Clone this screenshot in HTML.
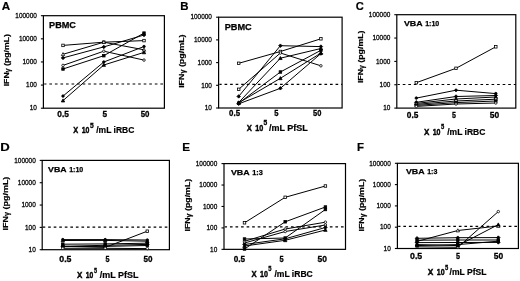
<!DOCTYPE html>
<html><head><meta charset="utf-8"><style>
html,body{margin:0;padding:0;background:#fff;}
body{width:520px;height:281px;overflow:hidden;}
svg{display:block;font-family:"Liberation Sans", sans-serif;filter:grayscale(1) blur(0.3px);}
</style></head><body>
<svg width="520" height="281" viewBox="0 0 520 281" font-family='"Liberation Sans", sans-serif' fill="#000">
<rect width="520" height="281" fill="#fff"/>
<rect x="43.40" y="15.70" width="121.00" height="92.50" fill="none" stroke="#000" stroke-width="1.2"/>
<line x1="40.90" y1="15.70" x2="43.40" y2="15.70" stroke="#000" stroke-width="1.1"/>
<text x="15.33" y="18.00" font-size="7.9" stroke="#000" stroke-width="0.3" textLength="21.52" lengthAdjust="spacingAndGlyphs">100000</text>
<line x1="40.90" y1="38.83" x2="43.40" y2="38.83" stroke="#000" stroke-width="1.1"/>
<text x="18.92" y="41.00" font-size="7.9" stroke="#000" stroke-width="0.3" textLength="17.94" lengthAdjust="spacingAndGlyphs">10000</text>
<line x1="40.90" y1="61.95" x2="43.40" y2="61.95" stroke="#000" stroke-width="1.1"/>
<text x="22.50" y="64.00" font-size="7.9" stroke="#000" stroke-width="0.3" textLength="14.35" lengthAdjust="spacingAndGlyphs">1000</text>
<line x1="40.90" y1="85.08" x2="43.40" y2="85.08" stroke="#000" stroke-width="1.1"/>
<text x="26.09" y="87.00" font-size="7.9" stroke="#000" stroke-width="0.3" textLength="10.76" lengthAdjust="spacingAndGlyphs">100</text>
<line x1="40.90" y1="108.20" x2="43.40" y2="108.20" stroke="#000" stroke-width="1.1"/>
<text x="29.68" y="110.00" font-size="7.9" stroke="#000" stroke-width="0.3" textLength="7.17" lengthAdjust="spacingAndGlyphs">10</text>
<line x1="44.20" y1="84.00" x2="164.40" y2="84.00" stroke="#000" stroke-width="1.2" stroke-dasharray="2.65 2.9" stroke-dashoffset="0.4"/>
<polyline points="63.00,45.40 103.80,42.20 144.00,40.60" fill="none" stroke="#000" stroke-width="1.0"/>
<polyline points="63.00,54.30 103.80,42.20 144.00,49.80" fill="none" stroke="#000" stroke-width="1.0"/>
<polyline points="63.00,57.90 103.80,46.90 144.00,35.00" fill="none" stroke="#000" stroke-width="1.0"/>
<polyline points="63.00,65.40 103.80,51.20 144.00,60.10" fill="none" stroke="#000" stroke-width="1.0"/>
<polyline points="63.00,69.00 103.80,55.70 144.00,33.10" fill="none" stroke="#000" stroke-width="1.0"/>
<polyline points="63.00,96.10 103.80,62.00 144.00,46.50" fill="none" stroke="#000" stroke-width="1.0"/>
<polyline points="63.00,100.60 103.80,65.00 144.00,52.40" fill="none" stroke="#000" stroke-width="1.0"/>
<rect x="61.75" y="44.15" width="2.50" height="2.50" fill="#fff" stroke="#000" stroke-width="0.8"/>
<rect x="102.55" y="40.95" width="2.50" height="2.50" fill="#fff" stroke="#000" stroke-width="0.8"/>
<rect x="142.75" y="39.35" width="2.50" height="2.50" fill="#fff" stroke="#000" stroke-width="0.8"/>
<polygon points="63.00,52.60 64.70,55.66 61.30,55.66" fill="#fff" stroke="#000" stroke-width="0.8"/>
<polygon points="103.80,40.50 105.50,43.56 102.10,43.56" fill="#fff" stroke="#000" stroke-width="0.8"/>
<polygon points="144.00,48.10 145.70,51.16 142.30,51.16" fill="#fff" stroke="#000" stroke-width="0.8"/>
<polygon points="63.00,56.15 64.75,57.90 63.00,59.65 61.25,57.90" fill="#000" stroke="#000" stroke-width="0.8"/>
<polygon points="103.80,45.15 105.55,46.90 103.80,48.65 102.05,46.90" fill="#000" stroke="#000" stroke-width="0.8"/>
<polygon points="144.00,33.25 145.75,35.00 144.00,36.75 142.25,35.00" fill="#000" stroke="#000" stroke-width="0.8"/>
<circle cx="63.00" cy="65.40" r="1.25" fill="#fff" stroke="#000" stroke-width="0.8"/>
<circle cx="103.80" cy="51.20" r="1.25" fill="#fff" stroke="#000" stroke-width="0.8"/>
<circle cx="144.00" cy="60.10" r="1.25" fill="#fff" stroke="#000" stroke-width="0.8"/>
<rect x="61.75" y="67.75" width="2.50" height="2.50" fill="#000" stroke="#000" stroke-width="0.8"/>
<rect x="102.55" y="54.45" width="2.50" height="2.50" fill="#000" stroke="#000" stroke-width="0.8"/>
<rect x="142.75" y="31.85" width="2.50" height="2.50" fill="#000" stroke="#000" stroke-width="0.8"/>
<circle cx="63.00" cy="96.10" r="1.25" fill="#000" stroke="#000" stroke-width="0.8"/>
<circle cx="103.80" cy="62.00" r="1.25" fill="#000" stroke="#000" stroke-width="0.8"/>
<circle cx="144.00" cy="46.50" r="1.25" fill="#000" stroke="#000" stroke-width="0.8"/>
<polygon points="63.00,98.90 64.70,101.96 61.30,101.96" fill="#000" stroke="#000" stroke-width="0.8"/>
<polygon points="103.80,63.30 105.50,66.36 102.10,66.36" fill="#000" stroke="#000" stroke-width="0.8"/>
<polygon points="144.00,50.70 145.70,53.76 142.30,53.76" fill="#000" stroke="#000" stroke-width="0.8"/>
<text x="1.81" y="10.00" font-size="11.3" font-weight="bold" stroke="#000" stroke-width="0.2" textLength="8.40" lengthAdjust="spacingAndGlyphs">A</text>
<text x="49.09" y="28.00" font-size="8.4" font-weight="bold" stroke="#000" stroke-width="0.25" textLength="26.86" lengthAdjust="spacingAndGlyphs">PBMC</text>
<text x="57.27" y="117.00" font-size="9" font-weight="bold" stroke="#000" stroke-width="0.3" textLength="11.61" lengthAdjust="spacingAndGlyphs">0.5</text>
<text x="102.45" y="117.00" font-size="9" font-weight="bold" stroke="#000" stroke-width="0.3" textLength="4.58" lengthAdjust="spacingAndGlyphs">5</text>
<text x="140.66" y="117.00" font-size="9" font-weight="bold" stroke="#000" stroke-width="0.3" textLength="8.77" lengthAdjust="spacingAndGlyphs">50</text>
<text x="73.34" y="133.00" font-size="8.6" font-weight="bold" stroke="#000" stroke-width="0.4" textLength="4.93" lengthAdjust="spacingAndGlyphs">X</text>
<text x="81.76" y="133.00" font-size="8.6" font-weight="bold" stroke="#000" stroke-width="0.4" textLength="7.72" lengthAdjust="spacingAndGlyphs">10</text>
<text x="90.00" y="128.00" font-size="6.8" font-weight="bold" stroke="#000" stroke-width="0.3" textLength="3.69" lengthAdjust="spacingAndGlyphs">5</text>
<text x="96.22" y="133.00" font-size="8.6" font-weight="bold" stroke="#000" stroke-width="0.2" textLength="38.11" lengthAdjust="spacingAndGlyphs">/mL iRBC</text>
<text transform="translate(9.00,85.90) rotate(-90)" x="-0.47" y="0" font-size="8" font-weight="bold" stroke="#000" stroke-width="0.2" textLength="52.30" lengthAdjust="spacingAndGlyphs">IFN<tspan font-size="6.4" dy="1">γ</tspan><tspan dy="-1"> (pg/mL)</tspan></text>
<rect x="218.60" y="17.20" width="123.50" height="90.80" fill="none" stroke="#000" stroke-width="1.2"/>
<line x1="216.10" y1="17.20" x2="218.60" y2="17.20" stroke="#000" stroke-width="1.1"/>
<text x="190.43" y="19.00" font-size="7.9" stroke="#000" stroke-width="0.3" textLength="21.52" lengthAdjust="spacingAndGlyphs">100000</text>
<line x1="216.10" y1="39.90" x2="218.60" y2="39.90" stroke="#000" stroke-width="1.1"/>
<text x="194.02" y="42.00" font-size="7.9" stroke="#000" stroke-width="0.3" textLength="17.94" lengthAdjust="spacingAndGlyphs">10000</text>
<line x1="216.10" y1="62.60" x2="218.60" y2="62.60" stroke="#000" stroke-width="1.1"/>
<text x="197.60" y="65.00" font-size="7.9" stroke="#000" stroke-width="0.3" textLength="14.35" lengthAdjust="spacingAndGlyphs">1000</text>
<line x1="216.10" y1="85.30" x2="218.60" y2="85.30" stroke="#000" stroke-width="1.1"/>
<text x="201.19" y="88.00" font-size="7.9" stroke="#000" stroke-width="0.3" textLength="10.76" lengthAdjust="spacingAndGlyphs">100</text>
<line x1="216.10" y1="108.00" x2="218.60" y2="108.00" stroke="#000" stroke-width="1.1"/>
<text x="204.78" y="110.00" font-size="7.9" stroke="#000" stroke-width="0.3" textLength="7.17" lengthAdjust="spacingAndGlyphs">10</text>
<line x1="219.40" y1="84.40" x2="342.10" y2="84.40" stroke="#000" stroke-width="1.2" stroke-dasharray="2.65 2.9" stroke-dashoffset="0.4"/>
<polyline points="238.70,63.30 280.40,51.50 320.90,38.80" fill="none" stroke="#000" stroke-width="1.0"/>
<polyline points="238.70,89.30 280.40,53.00 320.90,65.80" fill="none" stroke="#000" stroke-width="1.0"/>
<polyline points="238.70,96.40 280.40,45.70 320.90,46.60" fill="none" stroke="#000" stroke-width="1.0"/>
<polyline points="238.70,102.50 280.40,58.20 320.90,48.50" fill="none" stroke="#000" stroke-width="1.0"/>
<polyline points="238.70,103.20 280.40,72.00 320.90,50.30" fill="none" stroke="#000" stroke-width="1.0"/>
<polyline points="238.70,102.80 280.40,78.30 320.90,53.10" fill="none" stroke="#000" stroke-width="1.0"/>
<polyline points="238.70,103.80 280.40,88.30 320.90,53.60" fill="none" stroke="#000" stroke-width="1.0"/>
<rect x="237.45" y="62.05" width="2.50" height="2.50" fill="#fff" stroke="#000" stroke-width="0.8"/>
<rect x="279.15" y="50.25" width="2.50" height="2.50" fill="#fff" stroke="#000" stroke-width="0.8"/>
<rect x="319.65" y="37.55" width="2.50" height="2.50" fill="#fff" stroke="#000" stroke-width="0.8"/>
<rect x="237.45" y="88.05" width="2.50" height="2.50" fill="#fff" stroke="#000" stroke-width="0.8"/>
<circle cx="280.40" cy="53.00" r="1.25" fill="#fff" stroke="#000" stroke-width="0.8"/>
<circle cx="320.90" cy="65.80" r="1.25" fill="#fff" stroke="#000" stroke-width="0.8"/>
<polygon points="238.70,94.65 240.45,96.40 238.70,98.15 236.95,96.40" fill="#000" stroke="#000" stroke-width="0.8"/>
<polygon points="280.40,43.95 282.15,45.70 280.40,47.45 278.65,45.70" fill="#000" stroke="#000" stroke-width="0.8"/>
<polygon points="320.90,44.85 322.65,46.60 320.90,48.35 319.15,46.60" fill="#000" stroke="#000" stroke-width="0.8"/>
<polygon points="238.70,100.80 240.40,103.86 237.00,103.86" fill="#000" stroke="#000" stroke-width="0.8"/>
<polygon points="280.40,56.50 282.10,59.56 278.70,59.56" fill="#000" stroke="#000" stroke-width="0.8"/>
<polygon points="320.90,46.80 322.60,49.86 319.20,49.86" fill="#000" stroke="#000" stroke-width="0.8"/>
<rect x="237.45" y="101.95" width="2.50" height="2.50" fill="#000" stroke="#000" stroke-width="0.8"/>
<rect x="279.15" y="70.75" width="2.50" height="2.50" fill="#000" stroke="#000" stroke-width="0.8"/>
<rect x="319.65" y="49.05" width="2.50" height="2.50" fill="#000" stroke="#000" stroke-width="0.8"/>
<polygon points="238.70,101.10 240.40,104.16 237.00,104.16" fill="#000" stroke="#000" stroke-width="0.8"/>
<polygon points="280.40,76.60 282.10,79.66 278.70,79.66" fill="#000" stroke="#000" stroke-width="0.8"/>
<polygon points="320.90,51.40 322.60,54.46 319.20,54.46" fill="#000" stroke="#000" stroke-width="0.8"/>
<polygon points="238.70,102.05 240.45,103.80 238.70,105.55 236.95,103.80" fill="#000" stroke="#000" stroke-width="0.8"/>
<polygon points="280.40,86.55 282.15,88.30 280.40,90.05 278.65,88.30" fill="#000" stroke="#000" stroke-width="0.8"/>
<polygon points="320.90,51.85 322.65,53.60 320.90,55.35 319.15,53.60" fill="#000" stroke="#000" stroke-width="0.8"/>
<text x="180.33" y="10.00" font-size="11.3" font-weight="bold" stroke="#000" stroke-width="0.2" textLength="8.29" lengthAdjust="spacingAndGlyphs">B</text>
<text x="224.69" y="30.00" font-size="8.4" font-weight="bold" stroke="#000" stroke-width="0.25" textLength="26.96" lengthAdjust="spacingAndGlyphs">PBMC</text>
<text x="229.09" y="116.00" font-size="9" font-weight="bold" stroke="#000" stroke-width="0.3" textLength="10.93" lengthAdjust="spacingAndGlyphs">0.5</text>
<text x="274.37" y="116.00" font-size="9" font-weight="bold" stroke="#000" stroke-width="0.3" textLength="4.25" lengthAdjust="spacingAndGlyphs">5</text>
<text x="313.07" y="116.00" font-size="9" font-weight="bold" stroke="#000" stroke-width="0.3" textLength="8.34" lengthAdjust="spacingAndGlyphs">50</text>
<text x="246.73" y="131.00" font-size="8.6" font-weight="bold" stroke="#000" stroke-width="0.4" textLength="5.14" lengthAdjust="spacingAndGlyphs">X</text>
<text x="255.14" y="131.00" font-size="8.6" font-weight="bold" stroke="#000" stroke-width="0.4" textLength="8.05" lengthAdjust="spacingAndGlyphs">10</text>
<text x="263.40" y="125.00" font-size="6.8" font-weight="bold" stroke="#000" stroke-width="0.3" textLength="3.69" lengthAdjust="spacingAndGlyphs">5</text>
<text x="269.01" y="131.00" font-size="8.6" font-weight="bold" stroke="#000" stroke-width="0.2" textLength="38.86" lengthAdjust="spacingAndGlyphs">/mL PfSL</text>
<text transform="translate(184.20,87.40) rotate(-90)" x="-0.48" y="0" font-size="8" font-weight="bold" stroke="#000" stroke-width="0.2" textLength="53.42" lengthAdjust="spacingAndGlyphs">IFN<tspan font-size="6.4" dy="1">γ</tspan><tspan dy="-1"> (pg/mL)</tspan></text>
<rect x="396.80" y="14.70" width="119.00" height="93.40" fill="none" stroke="#000" stroke-width="1.2"/>
<line x1="394.30" y1="14.70" x2="396.80" y2="14.70" stroke="#000" stroke-width="1.1"/>
<text x="368.83" y="17.00" font-size="7.9" stroke="#000" stroke-width="0.3" textLength="21.52" lengthAdjust="spacingAndGlyphs">100000</text>
<line x1="394.30" y1="38.05" x2="396.80" y2="38.05" stroke="#000" stroke-width="1.1"/>
<text x="372.42" y="40.00" font-size="7.9" stroke="#000" stroke-width="0.3" textLength="17.94" lengthAdjust="spacingAndGlyphs">10000</text>
<line x1="394.30" y1="61.40" x2="396.80" y2="61.40" stroke="#000" stroke-width="1.1"/>
<text x="376.00" y="64.00" font-size="7.9" stroke="#000" stroke-width="0.3" textLength="14.35" lengthAdjust="spacingAndGlyphs">1000</text>
<line x1="394.30" y1="84.75" x2="396.80" y2="84.75" stroke="#000" stroke-width="1.1"/>
<text x="379.59" y="87.00" font-size="7.9" stroke="#000" stroke-width="0.3" textLength="10.76" lengthAdjust="spacingAndGlyphs">100</text>
<line x1="394.30" y1="108.10" x2="396.80" y2="108.10" stroke="#000" stroke-width="1.1"/>
<text x="383.18" y="110.00" font-size="7.9" stroke="#000" stroke-width="0.3" textLength="7.17" lengthAdjust="spacingAndGlyphs">10</text>
<line x1="397.60" y1="84.50" x2="515.80" y2="84.50" stroke="#000" stroke-width="1.2" stroke-dasharray="2.65 2.9" stroke-dashoffset="0.4"/>
<polyline points="416.30,82.70 456.00,68.30 495.80,46.80" fill="none" stroke="#000" stroke-width="1.0"/>
<polyline points="416.30,98.10 456.00,90.20 495.80,93.60" fill="none" stroke="#000" stroke-width="1.0"/>
<polyline points="416.30,102.30 456.00,96.50 495.80,95.50" fill="none" stroke="#000" stroke-width="1.0"/>
<polyline points="416.30,103.40 456.00,99.00 495.80,97.00" fill="none" stroke="#000" stroke-width="1.0"/>
<polyline points="416.30,104.40 456.00,101.00 495.80,99.20" fill="none" stroke="#000" stroke-width="1.0"/>
<polyline points="416.30,105.40 456.00,102.60 495.80,101.00" fill="none" stroke="#000" stroke-width="1.0"/>
<polyline points="416.30,106.40 456.00,104.00 495.80,103.00" fill="none" stroke="#000" stroke-width="1.0"/>
<rect x="415.05" y="81.45" width="2.50" height="2.50" fill="#fff" stroke="#000" stroke-width="0.8"/>
<rect x="454.75" y="67.05" width="2.50" height="2.50" fill="#fff" stroke="#000" stroke-width="0.8"/>
<rect x="494.55" y="45.55" width="2.50" height="2.50" fill="#fff" stroke="#000" stroke-width="0.8"/>
<circle cx="416.30" cy="98.10" r="1.25" fill="#000" stroke="#000" stroke-width="0.8"/>
<circle cx="456.00" cy="90.20" r="1.25" fill="#000" stroke="#000" stroke-width="0.8"/>
<circle cx="495.80" cy="93.60" r="1.25" fill="#000" stroke="#000" stroke-width="0.8"/>
<polygon points="416.30,100.55 418.05,102.30 416.30,104.05 414.55,102.30" fill="#000" stroke="#000" stroke-width="0.8"/>
<polygon points="456.00,94.75 457.75,96.50 456.00,98.25 454.25,96.50" fill="#000" stroke="#000" stroke-width="0.8"/>
<polygon points="495.80,93.75 497.55,95.50 495.80,97.25 494.05,95.50" fill="#000" stroke="#000" stroke-width="0.8"/>
<polygon points="416.30,101.70 418.00,104.76 414.60,104.76" fill="#000" stroke="#000" stroke-width="0.8"/>
<polygon points="456.00,97.30 457.70,100.36 454.30,100.36" fill="#000" stroke="#000" stroke-width="0.8"/>
<polygon points="495.80,95.30 497.50,98.36 494.10,98.36" fill="#000" stroke="#000" stroke-width="0.8"/>
<rect x="415.05" y="103.15" width="2.50" height="2.50" fill="#fff" stroke="#000" stroke-width="0.8"/>
<rect x="454.75" y="99.75" width="2.50" height="2.50" fill="#fff" stroke="#000" stroke-width="0.8"/>
<rect x="494.55" y="97.95" width="2.50" height="2.50" fill="#fff" stroke="#000" stroke-width="0.8"/>
<rect x="415.05" y="104.15" width="2.50" height="2.50" fill="#000" stroke="#000" stroke-width="0.8"/>
<rect x="454.75" y="101.35" width="2.50" height="2.50" fill="#000" stroke="#000" stroke-width="0.8"/>
<rect x="494.55" y="99.75" width="2.50" height="2.50" fill="#000" stroke="#000" stroke-width="0.8"/>
<circle cx="416.30" cy="106.40" r="1.25" fill="#fff" stroke="#000" stroke-width="0.8"/>
<circle cx="456.00" cy="104.00" r="1.25" fill="#fff" stroke="#000" stroke-width="0.8"/>
<circle cx="495.80" cy="103.00" r="1.25" fill="#fff" stroke="#000" stroke-width="0.8"/>
<text x="355.64" y="10.00" font-size="11.3" font-weight="bold" stroke="#000" stroke-width="0.2" textLength="8.06" lengthAdjust="spacingAndGlyphs">C</text>
<text x="403.94" y="26.00" font-size="7.8" font-weight="bold" stroke="#000" stroke-width="0.25" textLength="18.69" lengthAdjust="spacingAndGlyphs">VBA</text>
<text x="425.16" y="26.00" font-size="7.8" font-weight="bold" stroke="#000" stroke-width="0.25" textLength="14.13" lengthAdjust="spacingAndGlyphs">1:10</text>
<text x="406.77" y="118.00" font-size="9" font-weight="bold" stroke="#000" stroke-width="0.3" textLength="11.56" lengthAdjust="spacingAndGlyphs">0.5</text>
<text x="451.98" y="118.00" font-size="9" font-weight="bold" stroke="#000" stroke-width="0.3" textLength="3.91" lengthAdjust="spacingAndGlyphs">5</text>
<text x="489.84" y="118.00" font-size="9" font-weight="bold" stroke="#000" stroke-width="0.3" textLength="9.41" lengthAdjust="spacingAndGlyphs">50</text>
<text x="423.93" y="135.00" font-size="8.6" font-weight="bold" stroke="#000" stroke-width="0.4" textLength="5.34" lengthAdjust="spacingAndGlyphs">X</text>
<text x="432.66" y="135.00" font-size="8.6" font-weight="bold" stroke="#000" stroke-width="0.4" textLength="7.83" lengthAdjust="spacingAndGlyphs">10</text>
<text x="441.02" y="129.00" font-size="6.8" font-weight="bold" stroke="#000" stroke-width="0.3" textLength="3.24" lengthAdjust="spacingAndGlyphs">5</text>
<text x="447.22" y="135.00" font-size="8.6" font-weight="bold" stroke="#000" stroke-width="0.2" textLength="38.11" lengthAdjust="spacingAndGlyphs">/mL iRBC</text>
<text transform="translate(362.90,82.60) rotate(-90)" x="-0.47" y="0" font-size="8" font-weight="bold" stroke="#000" stroke-width="0.2" textLength="52.50" lengthAdjust="spacingAndGlyphs">IFN<tspan font-size="6.4" dy="1">γ</tspan><tspan dy="-1"> (pg/mL)</tspan></text>
<rect x="42.20" y="160.40" width="127.20" height="89.30" fill="none" stroke="#000" stroke-width="1.2"/>
<line x1="39.70" y1="160.40" x2="42.20" y2="160.40" stroke="#000" stroke-width="1.1"/>
<text x="14.23" y="163.00" font-size="7.9" stroke="#000" stroke-width="0.3" textLength="21.52" lengthAdjust="spacingAndGlyphs">100000</text>
<line x1="39.70" y1="182.72" x2="42.20" y2="182.72" stroke="#000" stroke-width="1.1"/>
<text x="17.82" y="185.00" font-size="7.9" stroke="#000" stroke-width="0.3" textLength="17.94" lengthAdjust="spacingAndGlyphs">10000</text>
<line x1="39.70" y1="205.05" x2="42.20" y2="205.05" stroke="#000" stroke-width="1.1"/>
<text x="21.40" y="207.00" font-size="7.9" stroke="#000" stroke-width="0.3" textLength="14.35" lengthAdjust="spacingAndGlyphs">1000</text>
<line x1="39.70" y1="227.38" x2="42.20" y2="227.38" stroke="#000" stroke-width="1.1"/>
<text x="24.99" y="230.00" font-size="7.9" stroke="#000" stroke-width="0.3" textLength="10.76" lengthAdjust="spacingAndGlyphs">100</text>
<line x1="39.70" y1="249.70" x2="42.20" y2="249.70" stroke="#000" stroke-width="1.1"/>
<text x="28.58" y="252.00" font-size="7.9" stroke="#000" stroke-width="0.3" textLength="7.17" lengthAdjust="spacingAndGlyphs">10</text>
<line x1="43.00" y1="227.10" x2="169.40" y2="227.10" stroke="#000" stroke-width="1.2" stroke-dasharray="2.65 2.9" stroke-dashoffset="0.4"/>
<polyline points="62.80,239.60 105.20,239.60 147.30,240.00" fill="none" stroke="#000" stroke-width="1.0"/>
<polyline points="62.80,240.50 105.20,240.40 147.30,241.20" fill="none" stroke="#000" stroke-width="1.0"/>
<polyline points="62.80,244.20 105.20,243.90 147.30,243.20" fill="none" stroke="#000" stroke-width="1.0"/>
<polyline points="62.80,246.30 105.20,247.40 147.30,231.20" fill="none" stroke="#000" stroke-width="1.0"/>
<polyline points="62.80,246.30 105.20,245.30 147.30,244.40" fill="none" stroke="#000" stroke-width="1.0"/>
<polyline points="62.80,246.60 105.20,246.40 147.30,245.50" fill="none" stroke="#000" stroke-width="1.0"/>
<polyline points="62.80,248.30 105.20,248.30 147.30,248.60" fill="none" stroke="#000" stroke-width="1.0"/>
<circle cx="62.80" cy="239.60" r="1.25" fill="#000" stroke="#000" stroke-width="0.8"/>
<circle cx="105.20" cy="239.60" r="1.25" fill="#000" stroke="#000" stroke-width="0.8"/>
<circle cx="147.30" cy="240.00" r="1.25" fill="#000" stroke="#000" stroke-width="0.8"/>
<polygon points="62.80,238.80 64.50,241.86 61.10,241.86" fill="#000" stroke="#000" stroke-width="0.8"/>
<polygon points="105.20,238.70 106.90,241.76 103.50,241.76" fill="#000" stroke="#000" stroke-width="0.8"/>
<polygon points="147.30,239.50 149.00,242.56 145.60,242.56" fill="#000" stroke="#000" stroke-width="0.8"/>
<rect x="61.55" y="242.95" width="2.50" height="2.50" fill="#000" stroke="#000" stroke-width="0.8"/>
<rect x="103.95" y="242.65" width="2.50" height="2.50" fill="#000" stroke="#000" stroke-width="0.8"/>
<rect x="146.05" y="241.95" width="2.50" height="2.50" fill="#000" stroke="#000" stroke-width="0.8"/>
<rect x="61.55" y="245.05" width="2.50" height="2.50" fill="#fff" stroke="#000" stroke-width="0.8"/>
<rect x="103.95" y="246.15" width="2.50" height="2.50" fill="#fff" stroke="#000" stroke-width="0.8"/>
<rect x="146.05" y="229.95" width="2.50" height="2.50" fill="#fff" stroke="#000" stroke-width="0.8"/>
<polygon points="62.80,244.55 64.55,246.30 62.80,248.05 61.05,246.30" fill="#000" stroke="#000" stroke-width="0.8"/>
<polygon points="105.20,243.55 106.95,245.30 105.20,247.05 103.45,245.30" fill="#000" stroke="#000" stroke-width="0.8"/>
<polygon points="147.30,242.65 149.05,244.40 147.30,246.15 145.55,244.40" fill="#000" stroke="#000" stroke-width="0.8"/>
<rect x="61.55" y="245.35" width="2.50" height="2.50" fill="#000" stroke="#000" stroke-width="0.8"/>
<rect x="103.95" y="245.15" width="2.50" height="2.50" fill="#000" stroke="#000" stroke-width="0.8"/>
<rect x="146.05" y="244.25" width="2.50" height="2.50" fill="#000" stroke="#000" stroke-width="0.8"/>
<circle cx="62.80" cy="248.30" r="1.25" fill="#fff" stroke="#000" stroke-width="0.8"/>
<circle cx="105.20" cy="248.30" r="1.25" fill="#fff" stroke="#000" stroke-width="0.8"/>
<circle cx="147.30" cy="248.60" r="1.25" fill="#fff" stroke="#000" stroke-width="0.8"/>
<text x="0.22" y="151.00" font-size="11.3" font-weight="bold" stroke="#000" stroke-width="0.2" textLength="9.48" lengthAdjust="spacingAndGlyphs">D</text>
<text x="48.14" y="172.00" font-size="7.8" font-weight="bold" stroke="#000" stroke-width="0.25" textLength="18.49" lengthAdjust="spacingAndGlyphs">VBA</text>
<text x="69.16" y="172.00" font-size="7.8" font-weight="bold" stroke="#000" stroke-width="0.25" textLength="14.13" lengthAdjust="spacingAndGlyphs">1:10</text>
<text x="59.25" y="262.00" font-size="9" font-weight="bold" stroke="#000" stroke-width="0.3" textLength="12.19" lengthAdjust="spacingAndGlyphs">0.5</text>
<text x="105.48" y="262.00" font-size="9" font-weight="bold" stroke="#000" stroke-width="0.3" textLength="4.02" lengthAdjust="spacingAndGlyphs">5</text>
<text x="143.55" y="262.00" font-size="9" font-weight="bold" stroke="#000" stroke-width="0.3" textLength="8.98" lengthAdjust="spacingAndGlyphs">50</text>
<text x="76.93" y="278.00" font-size="8.6" font-weight="bold" stroke="#000" stroke-width="0.4" textLength="5.34" lengthAdjust="spacingAndGlyphs">X</text>
<text x="85.68" y="278.00" font-size="8.6" font-weight="bold" stroke="#000" stroke-width="0.4" textLength="7.50" lengthAdjust="spacingAndGlyphs">10</text>
<text x="94.03" y="273.00" font-size="6.8" font-weight="bold" stroke="#000" stroke-width="0.3" textLength="3.02" lengthAdjust="spacingAndGlyphs">5</text>
<text x="99.81" y="278.00" font-size="8.6" font-weight="bold" stroke="#000" stroke-width="0.2" textLength="38.66" lengthAdjust="spacingAndGlyphs">/mL PfSL</text>
<text transform="translate(8.40,229.90) rotate(-90)" x="-0.49" y="0" font-size="8" font-weight="bold" stroke="#000" stroke-width="0.2" textLength="53.73" lengthAdjust="spacingAndGlyphs">IFN<tspan font-size="6.4" dy="1">γ</tspan><tspan dy="-1"> (pg/mL)</tspan></text>
<rect x="224.00" y="163.60" width="121.50" height="85.75" fill="none" stroke="#000" stroke-width="1.2"/>
<line x1="221.50" y1="163.60" x2="224.00" y2="163.60" stroke="#000" stroke-width="1.1"/>
<text x="195.73" y="166.00" font-size="7.9" stroke="#000" stroke-width="0.3" textLength="21.52" lengthAdjust="spacingAndGlyphs">100000</text>
<line x1="221.50" y1="185.04" x2="224.00" y2="185.04" stroke="#000" stroke-width="1.1"/>
<text x="199.32" y="187.00" font-size="7.9" stroke="#000" stroke-width="0.3" textLength="17.94" lengthAdjust="spacingAndGlyphs">10000</text>
<line x1="221.50" y1="206.47" x2="224.00" y2="206.47" stroke="#000" stroke-width="1.1"/>
<text x="202.90" y="209.00" font-size="7.9" stroke="#000" stroke-width="0.3" textLength="14.35" lengthAdjust="spacingAndGlyphs">1000</text>
<line x1="221.50" y1="227.91" x2="224.00" y2="227.91" stroke="#000" stroke-width="1.1"/>
<text x="206.49" y="230.00" font-size="7.9" stroke="#000" stroke-width="0.3" textLength="10.76" lengthAdjust="spacingAndGlyphs">100</text>
<line x1="221.50" y1="249.35" x2="224.00" y2="249.35" stroke="#000" stroke-width="1.1"/>
<text x="210.08" y="252.00" font-size="7.9" stroke="#000" stroke-width="0.3" textLength="7.17" lengthAdjust="spacingAndGlyphs">10</text>
<line x1="224.80" y1="226.90" x2="345.50" y2="226.90" stroke="#000" stroke-width="1.2" stroke-dasharray="2.65 2.9" stroke-dashoffset="0.4"/>
<polyline points="244.50,222.80 285.20,197.30 325.40,186.00" fill="none" stroke="#000" stroke-width="1.0"/>
<polyline points="244.50,249.00 285.20,221.80 325.40,207.00" fill="none" stroke="#000" stroke-width="1.0"/>
<polyline points="244.50,241.30 285.20,229.00 325.40,222.20" fill="none" stroke="#000" stroke-width="1.0"/>
<polyline points="244.50,239.00 285.20,238.00 325.40,209.50" fill="none" stroke="#000" stroke-width="1.0"/>
<polyline points="244.50,243.00 285.20,231.50 325.40,225.00" fill="none" stroke="#000" stroke-width="1.0"/>
<polyline points="244.50,244.50 285.20,238.80 325.40,227.50" fill="none" stroke="#000" stroke-width="1.0"/>
<polyline points="244.50,246.00 285.20,240.30 325.40,230.00" fill="none" stroke="#000" stroke-width="1.0"/>
<rect x="243.25" y="221.55" width="2.50" height="2.50" fill="#fff" stroke="#000" stroke-width="0.8"/>
<rect x="283.95" y="196.05" width="2.50" height="2.50" fill="#fff" stroke="#000" stroke-width="0.8"/>
<rect x="324.15" y="184.75" width="2.50" height="2.50" fill="#fff" stroke="#000" stroke-width="0.8"/>
<rect x="243.25" y="247.75" width="2.50" height="2.50" fill="#000" stroke="#000" stroke-width="0.8"/>
<rect x="283.95" y="220.55" width="2.50" height="2.50" fill="#000" stroke="#000" stroke-width="0.8"/>
<rect x="324.15" y="205.75" width="2.50" height="2.50" fill="#000" stroke="#000" stroke-width="0.8"/>
<circle cx="244.50" cy="241.30" r="1.25" fill="#fff" stroke="#000" stroke-width="0.8"/>
<circle cx="285.20" cy="229.00" r="1.25" fill="#fff" stroke="#000" stroke-width="0.8"/>
<circle cx="325.40" cy="222.20" r="1.25" fill="#fff" stroke="#000" stroke-width="0.8"/>
<rect x="243.25" y="237.75" width="2.50" height="2.50" fill="#000" stroke="#000" stroke-width="0.8"/>
<rect x="283.95" y="236.75" width="2.50" height="2.50" fill="#000" stroke="#000" stroke-width="0.8"/>
<rect x="324.15" y="208.25" width="2.50" height="2.50" fill="#000" stroke="#000" stroke-width="0.8"/>
<circle cx="244.50" cy="243.00" r="1.25" fill="#fff" stroke="#000" stroke-width="0.8"/>
<circle cx="285.20" cy="231.50" r="1.25" fill="#fff" stroke="#000" stroke-width="0.8"/>
<circle cx="325.40" cy="225.00" r="1.25" fill="#fff" stroke="#000" stroke-width="0.8"/>
<polygon points="244.50,242.75 246.25,244.50 244.50,246.25 242.75,244.50" fill="#000" stroke="#000" stroke-width="0.8"/>
<polygon points="285.20,237.05 286.95,238.80 285.20,240.55 283.45,238.80" fill="#000" stroke="#000" stroke-width="0.8"/>
<polygon points="325.40,225.75 327.15,227.50 325.40,229.25 323.65,227.50" fill="#000" stroke="#000" stroke-width="0.8"/>
<polygon points="244.50,244.30 246.20,247.36 242.80,247.36" fill="#000" stroke="#000" stroke-width="0.8"/>
<polygon points="285.20,238.60 286.90,241.66 283.50,241.66" fill="#000" stroke="#000" stroke-width="0.8"/>
<polygon points="325.40,228.30 327.10,231.36 323.70,231.36" fill="#000" stroke="#000" stroke-width="0.8"/>
<text x="182.32" y="151.00" font-size="11.3" font-weight="bold" stroke="#000" stroke-width="0.2" textLength="7.79" lengthAdjust="spacingAndGlyphs">E</text>
<text x="230.94" y="175.00" font-size="7.8" font-weight="bold" stroke="#000" stroke-width="0.25" textLength="18.69" lengthAdjust="spacingAndGlyphs">VBA</text>
<text x="252.14" y="175.00" font-size="7.8" font-weight="bold" stroke="#000" stroke-width="0.25" textLength="10.63" lengthAdjust="spacingAndGlyphs">1:3</text>
<text x="233.78" y="262.00" font-size="9" font-weight="bold" stroke="#000" stroke-width="0.3" textLength="11.35" lengthAdjust="spacingAndGlyphs">0.5</text>
<text x="279.47" y="262.00" font-size="9" font-weight="bold" stroke="#000" stroke-width="0.3" textLength="4.14" lengthAdjust="spacingAndGlyphs">5</text>
<text x="317.54" y="262.00" font-size="9" font-weight="bold" stroke="#000" stroke-width="0.3" textLength="9.41" lengthAdjust="spacingAndGlyphs">50</text>
<text x="251.53" y="277.00" font-size="8.6" font-weight="bold" stroke="#000" stroke-width="0.4" textLength="5.14" lengthAdjust="spacingAndGlyphs">X</text>
<text x="259.95" y="277.00" font-size="8.6" font-weight="bold" stroke="#000" stroke-width="0.4" textLength="7.94" lengthAdjust="spacingAndGlyphs">10</text>
<text x="268.22" y="271.00" font-size="6.8" font-weight="bold" stroke="#000" stroke-width="0.3" textLength="3.24" lengthAdjust="spacingAndGlyphs">5</text>
<text x="274.42" y="277.00" font-size="8.6" font-weight="bold" stroke="#000" stroke-width="0.2" textLength="38.42" lengthAdjust="spacingAndGlyphs">/mL iRBC</text>
<text transform="translate(190.20,231.10) rotate(-90)" x="-0.48" y="0" font-size="8" font-weight="bold" stroke="#000" stroke-width="0.2" textLength="52.81" lengthAdjust="spacingAndGlyphs">IFN<tspan font-size="6.4" dy="1">γ</tspan><tspan dy="-1"> (pg/mL)</tspan></text>
<rect x="397.40" y="163.30" width="121.00" height="85.20" fill="none" stroke="#000" stroke-width="1.2"/>
<line x1="394.90" y1="163.30" x2="397.40" y2="163.30" stroke="#000" stroke-width="1.1"/>
<text x="369.23" y="166.00" font-size="7.9" stroke="#000" stroke-width="0.3" textLength="21.52" lengthAdjust="spacingAndGlyphs">100000</text>
<line x1="394.90" y1="184.60" x2="397.40" y2="184.60" stroke="#000" stroke-width="1.1"/>
<text x="372.82" y="187.00" font-size="7.9" stroke="#000" stroke-width="0.3" textLength="17.94" lengthAdjust="spacingAndGlyphs">10000</text>
<line x1="394.90" y1="205.90" x2="397.40" y2="205.90" stroke="#000" stroke-width="1.1"/>
<text x="376.40" y="208.00" font-size="7.9" stroke="#000" stroke-width="0.3" textLength="14.35" lengthAdjust="spacingAndGlyphs">1000</text>
<line x1="394.90" y1="227.20" x2="397.40" y2="227.20" stroke="#000" stroke-width="1.1"/>
<text x="379.99" y="229.00" font-size="7.9" stroke="#000" stroke-width="0.3" textLength="10.76" lengthAdjust="spacingAndGlyphs">100</text>
<line x1="394.90" y1="248.50" x2="397.40" y2="248.50" stroke="#000" stroke-width="1.1"/>
<text x="383.58" y="251.00" font-size="7.9" stroke="#000" stroke-width="0.3" textLength="7.17" lengthAdjust="spacingAndGlyphs">10</text>
<line x1="398.20" y1="226.30" x2="518.40" y2="226.30" stroke="#000" stroke-width="1.2" stroke-dasharray="2.65 2.9" stroke-dashoffset="0.4"/>
<polyline points="417.00,241.40 457.80,230.50 498.30,226.00" fill="none" stroke="#000" stroke-width="1.0"/>
<polyline points="417.00,238.30 457.80,237.70 498.30,237.60" fill="none" stroke="#000" stroke-width="1.0"/>
<polyline points="417.00,240.20 457.80,240.00 498.30,240.00" fill="none" stroke="#000" stroke-width="1.0"/>
<polyline points="417.00,242.60 457.80,242.50 498.30,242.40" fill="none" stroke="#000" stroke-width="1.0"/>
<polyline points="417.00,246.80 457.80,247.30 498.30,211.60" fill="none" stroke="#000" stroke-width="1.0"/>
<polyline points="417.00,244.60 457.80,245.60 498.30,224.60" fill="none" stroke="#000" stroke-width="1.0"/>
<polyline points="417.00,245.60 457.80,244.60 498.30,241.20" fill="none" stroke="#000" stroke-width="1.0"/>
<polygon points="417.00,239.70 418.70,242.76 415.30,242.76" fill="#fff" stroke="#000" stroke-width="0.8"/>
<polygon points="457.80,228.80 459.50,231.86 456.10,231.86" fill="#fff" stroke="#000" stroke-width="0.8"/>
<polygon points="498.30,224.30 500.00,227.36 496.60,227.36" fill="#fff" stroke="#000" stroke-width="0.8"/>
<polygon points="417.00,236.55 418.75,238.30 417.00,240.05 415.25,238.30" fill="#000" stroke="#000" stroke-width="0.8"/>
<polygon points="457.80,235.95 459.55,237.70 457.80,239.45 456.05,237.70" fill="#000" stroke="#000" stroke-width="0.8"/>
<polygon points="498.30,235.85 500.05,237.60 498.30,239.35 496.55,237.60" fill="#000" stroke="#000" stroke-width="0.8"/>
<rect x="415.75" y="238.95" width="2.50" height="2.50" fill="#000" stroke="#000" stroke-width="0.8"/>
<rect x="456.55" y="238.75" width="2.50" height="2.50" fill="#000" stroke="#000" stroke-width="0.8"/>
<rect x="497.05" y="238.75" width="2.50" height="2.50" fill="#000" stroke="#000" stroke-width="0.8"/>
<polygon points="417.00,240.85 418.75,242.60 417.00,244.35 415.25,242.60" fill="#000" stroke="#000" stroke-width="0.8"/>
<polygon points="457.80,240.75 459.55,242.50 457.80,244.25 456.05,242.50" fill="#000" stroke="#000" stroke-width="0.8"/>
<polygon points="498.30,240.65 500.05,242.40 498.30,244.15 496.55,242.40" fill="#000" stroke="#000" stroke-width="0.8"/>
<circle cx="417.00" cy="246.80" r="1.25" fill="#fff" stroke="#000" stroke-width="0.8"/>
<circle cx="457.80" cy="247.30" r="1.25" fill="#fff" stroke="#000" stroke-width="0.8"/>
<circle cx="498.30" cy="211.60" r="1.25" fill="#fff" stroke="#000" stroke-width="0.8"/>
<polygon points="417.00,242.90 418.70,245.96 415.30,245.96" fill="#000" stroke="#000" stroke-width="0.8"/>
<polygon points="457.80,243.90 459.50,246.96 456.10,246.96" fill="#000" stroke="#000" stroke-width="0.8"/>
<polygon points="498.30,222.90 500.00,225.96 496.60,225.96" fill="#000" stroke="#000" stroke-width="0.8"/>
<rect x="415.75" y="244.35" width="2.50" height="2.50" fill="#000" stroke="#000" stroke-width="0.8"/>
<rect x="456.55" y="243.35" width="2.50" height="2.50" fill="#000" stroke="#000" stroke-width="0.8"/>
<rect x="497.05" y="239.95" width="2.50" height="2.50" fill="#000" stroke="#000" stroke-width="0.8"/>
<text x="357.09" y="151.00" font-size="11.3" font-weight="bold" stroke="#000" stroke-width="0.2" textLength="6.98" lengthAdjust="spacingAndGlyphs">F</text>
<text x="405.94" y="174.00" font-size="7.8" font-weight="bold" stroke="#000" stroke-width="0.25" textLength="18.69" lengthAdjust="spacingAndGlyphs">VBA</text>
<text x="427.16" y="174.00" font-size="7.8" font-weight="bold" stroke="#000" stroke-width="0.25" textLength="10.20" lengthAdjust="spacingAndGlyphs">1:3</text>
<text x="410.05" y="259.00" font-size="9" font-weight="bold" stroke="#000" stroke-width="0.3" textLength="12.19" lengthAdjust="spacingAndGlyphs">0.5</text>
<text x="456.08" y="259.00" font-size="9" font-weight="bold" stroke="#000" stroke-width="0.3" textLength="4.02" lengthAdjust="spacingAndGlyphs">5</text>
<text x="493.84" y="259.00" font-size="9" font-weight="bold" stroke="#000" stroke-width="0.3" textLength="9.41" lengthAdjust="spacingAndGlyphs">50</text>
<text x="427.73" y="275.00" font-size="8.6" font-weight="bold" stroke="#000" stroke-width="0.4" textLength="5.55" lengthAdjust="spacingAndGlyphs">X</text>
<text x="436.76" y="275.00" font-size="8.6" font-weight="bold" stroke="#000" stroke-width="0.4" textLength="7.83" lengthAdjust="spacingAndGlyphs">10</text>
<text x="445.02" y="270.00" font-size="6.8" font-weight="bold" stroke="#000" stroke-width="0.3" textLength="3.24" lengthAdjust="spacingAndGlyphs">5</text>
<text x="449.52" y="275.00" font-size="8.6" font-weight="bold" stroke="#000" stroke-width="0.2" textLength="36.95" lengthAdjust="spacingAndGlyphs">/mL PfSL</text>
<text transform="translate(363.60,231.10) rotate(-90)" x="-0.48" y="0" font-size="8" font-weight="bold" stroke="#000" stroke-width="0.2" textLength="52.81" lengthAdjust="spacingAndGlyphs">IFN<tspan font-size="6.4" dy="1">γ</tspan><tspan dy="-1"> (pg/mL)</tspan></text>
</svg>
</body></html>
